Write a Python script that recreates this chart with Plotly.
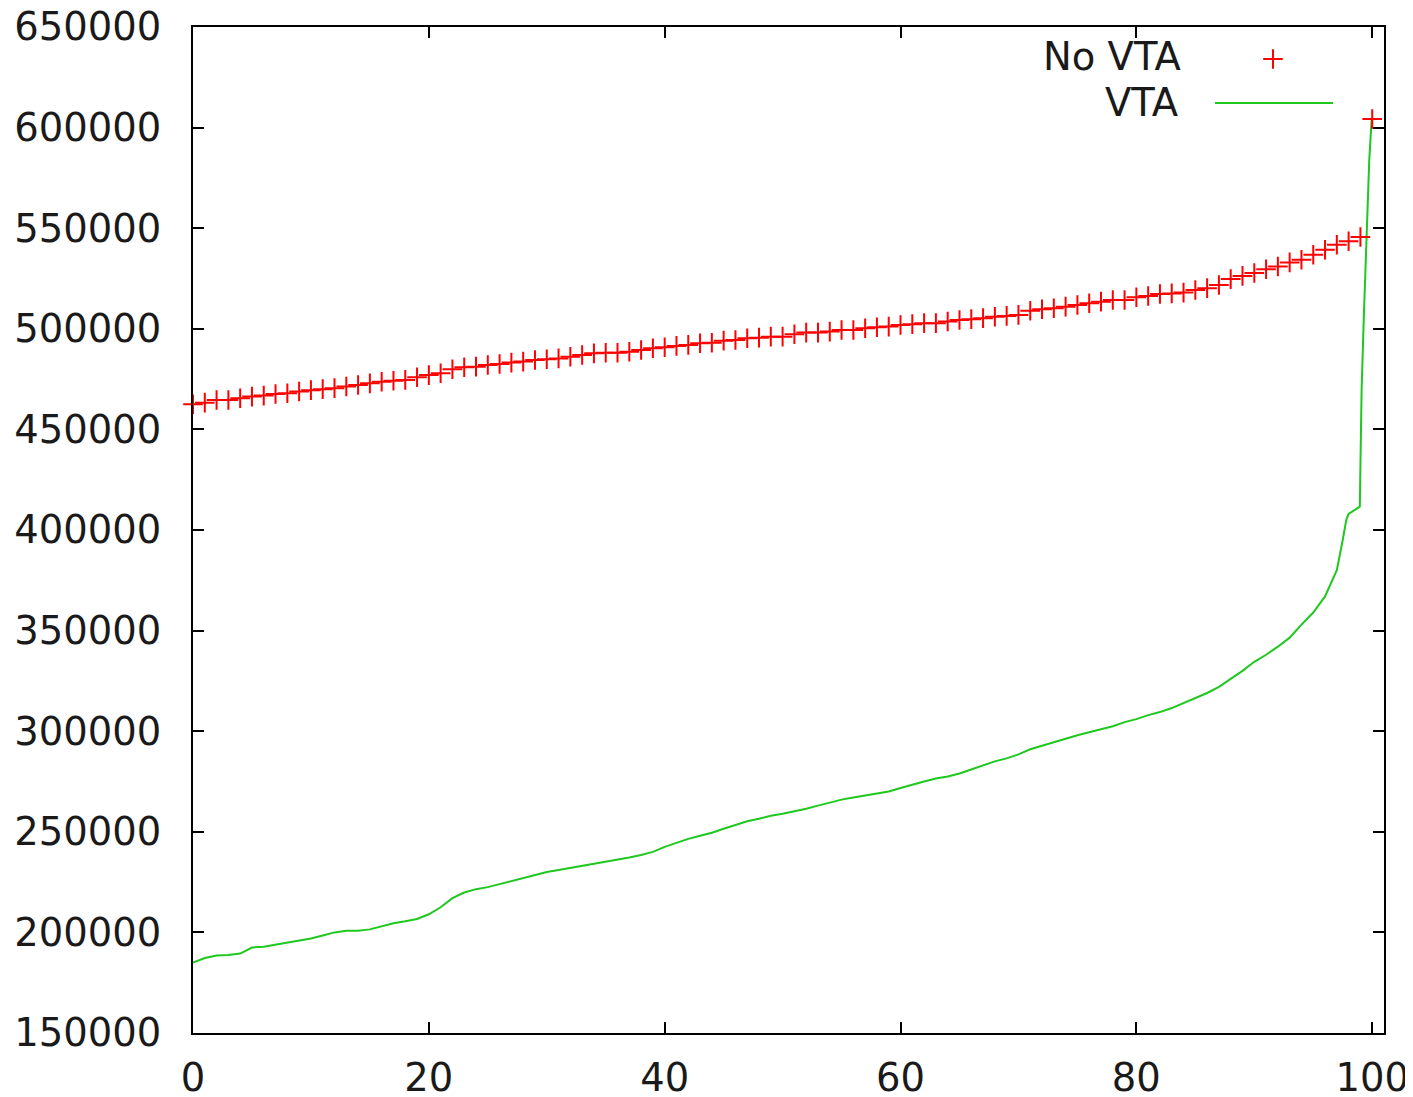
import plotly.graph_objects as go

# ---- data ----
novta_x = list(range(0, 101))
novta_y = [462500, 463300, 464600, 464600, 465500, 466300, 466800, 467600, 468000, 468800,
           469500, 470000, 470500, 471300, 472100, 472900, 473700, 474200, 474600, 475900,
           477000, 477900, 479900, 480900, 481200, 482000, 482500, 483200, 483700, 484500,
           484900, 485300, 486100, 487000, 487800, 488100, 488100, 488600, 489500, 490300,
           490800, 491500, 492000, 492800, 493100, 494100, 494400, 495300, 495600, 496100,
           496100, 497300, 498100, 498100, 498600, 499400, 499400, 500300, 500800, 501100,
           501900, 502300, 502800, 502800, 503600, 504400, 504800, 505300, 506000, 506400,
           506900, 509000, 509700, 510200, 511000, 511800, 512700, 513500, 514300, 514300,
           515700, 516300, 517300, 517600, 518000, 519300, 520200, 521800, 524700, 526300,
           527700, 529600, 531000, 533000, 534300, 536800, 539300, 541800, 543500, 545600,
           604300]

vta_x = list(range(0, 98)) + [97.5, 97.8, 98.0, 98.95, 99.0, 99.1, 99.3, 99.5, 99.75, 99.95]
vta_y = [185000, 187300, 188500, 188800, 189500, 192500, 192900, 194000, 195000, 196000,
         197000, 198500, 200000, 200800, 200800, 201500, 203000, 204500, 205500, 206700,
         209000, 212500, 217000, 219800, 221500, 222500, 224000, 225500, 227000, 228500,
         230000, 231000, 232000, 233000, 234000, 235000, 236000, 237200, 238500, 240000,
         242500, 244500, 246500, 248000, 249500, 251500, 253500, 255200, 256500, 258000,
         259000, 260200, 261500, 263000, 264500, 266000, 267000, 268000, 269000, 270000,
         271800, 273500, 275000, 276500, 277500, 279000, 281000, 283000, 285000, 286500,
         288500, 291000, 292800, 294500, 296500, 298000, 299500, 301000, 302500, 304500,
         306000, 308000, 309500, 311500, 314000, 316500, 319000, 322000, 326000, 330000,
         334500, 338000, 342000, 346500, 353000, 359000, 367000, 380000,
         395000, 405000, 408000, 411600, 431500, 469600, 507800, 545800, 583900, 603800]

x_ticks = [0, 20, 40, 60, 80, 100]
y_ticks = [150000, 200000, 250000, 300000, 350000, 400000, 450000, 500000, 550000, 600000, 650000]
labels = ["No VTA", "VTA"]

RED = "#ff0000"
GREEN = "#1ec81e"
FONT = "DejaVu Sans"
TXT = "#1a1a1a"
FS = 38.5

fig = go.Figure()
fig.add_trace(go.Scatter(x=vta_x, y=vta_y, mode="lines", name=labels[1],
                         line=dict(color=GREEN, width=2), showlegend=False))
fig.add_trace(go.Scatter(x=novta_x, y=novta_y, mode="markers", name=labels[0],
                         marker=dict(symbol="cross-thin", size=14, line=dict(color=RED, width=2)),
                         showlegend=False, cliponaxis=False))

# custom gnuplot-style legend keys on a hidden overlay axis
fig.add_trace(go.Scatter(x=[0.9068], y=[0.9682], mode="markers", xaxis="x2", yaxis="y2",
                         marker=dict(symbol="cross-thin", size=14, line=dict(color=RED, width=2)),
                         showlegend=False, hoverinfo="skip"))
fig.add_trace(go.Scatter(x=[0.8581, 0.9572], y=[0.9245, 0.9245], mode="lines", xaxis="x2", yaxis="y2",
                         line=dict(color=GREEN, width=2), showlegend=False, hoverinfo="skip"))

fig.add_annotation(x=0.8312, y=0.9702, xref="x2", yref="y2", text=labels[0], showarrow=False,
                   xanchor="right", yanchor="middle", font=dict(family=FONT, size=FS, color=TXT))
fig.add_annotation(x=0.8296, y=0.9245, xref="x2", yref="y2", text=labels[1], showarrow=False,
                   xanchor="right", yanchor="middle", font=dict(family=FONT, size=FS, color=TXT))

axis_common = dict(showgrid=False, zeroline=False, showline=True, linecolor="#000000", linewidth=2,
                   mirror="ticks", ticks="inside", ticklen=11, tickwidth=2, tickcolor="#000000",
                   automargin=False, ticklabeloverflow="allow",
                   tickfont=dict(family=FONT, size=FS, color=TXT))

# page body has an 8px default margin, so the figure is offset by 8px
fig.update_layout(
    width=1405, height=1089,
    margin=dict(l=185, r=29, t=19, b=64),
    paper_bgcolor="white", plot_bgcolor="white",
    showlegend=False,
    xaxis=dict(range=[0, 101], tickvals=x_ticks, ticktext=[str(v) for v in x_ticks],
               ticklabelstandoff=10, **axis_common),
    yaxis=dict(range=[150000, 650000], tickvals=y_ticks, ticktext=[str(v) for v in y_ticks],
               ticklabelstandoff=22, **axis_common),
    xaxis2=dict(range=[0, 1], overlaying="x", visible=False),
    yaxis2=dict(range=[0, 1], overlaying="y", visible=False),
)

fig.write_html("out.html")
